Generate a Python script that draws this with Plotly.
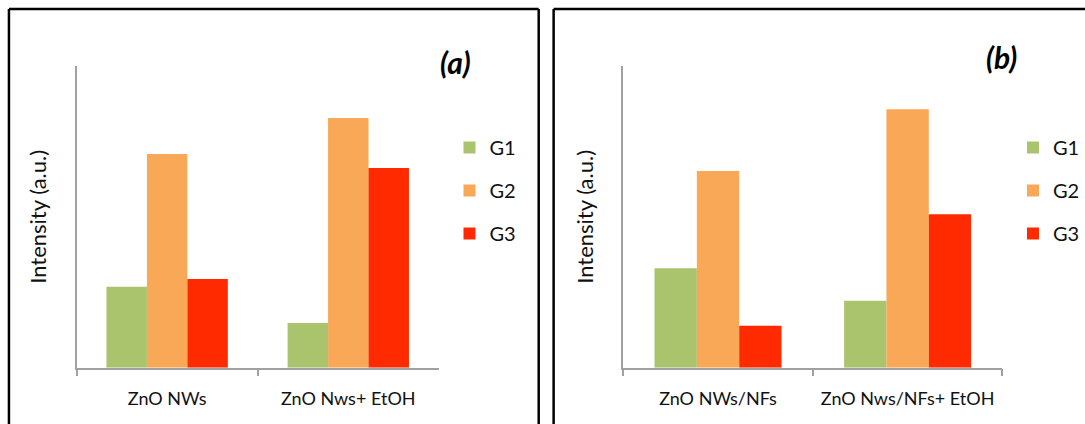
import plotly.graph_objects as go

# ---- data ----
categories_a = ["ZnO NWs", "ZnO Nws+ EtOH"]
categories_b = ["ZnO NWs/NFs", "ZnO Nws/NFs+ EtOH"]
series_names = ["G1", "G2", "G3"]
values_a = {
    "G1": [0.268, 0.148],
    "G2": [0.708, 0.828],
    "G3": [0.294, 0.662],
}
values_b = {
    "G1": [0.330, 0.222],
    "G2": [0.652, 0.857],
    "G3": [0.139, 0.509],
}
colors = {"G1": "#AAC36D", "G2": "#F9A857", "G3": "#FF2A00"}
y_title = "Intensity (a.u.)"
panel_labels = ["(a)", "(b)"]

W, H = 1085, 424
FONT = "Lato, 'Open Sans', sans-serif"

def px(x):
    return x / W

def py(y):
    return 1 - y / H

fig = go.Figure()
for name in series_names:
    fig.add_trace(go.Bar(
        x=categories_a, y=values_a[name], name=name,
        marker=dict(color=colors[name], line=dict(width=0)),
        xaxis="x", yaxis="y", legend="legend", legendgroup="a" + name,
    ))
for name in series_names:
    fig.add_trace(go.Bar(
        x=categories_b, y=values_b[name], name=name,
        marker=dict(color=colors[name], line=dict(width=0)),
        xaxis="x2", yaxis="y2", legend="legend2", legendgroup="b" + name,
    ))

axis_gray = "#A0A0A0"
xcommon = dict(
    type="category", range=[-0.5, 1.5], showline=True, linecolor=axis_gray,
    linewidth=1.5, ticks="outside", tickson="boundaries", ticklen=7,
    tickcolor=axis_gray, tickwidth=1.5, showgrid=False, zeroline=False,
    tickfont=dict(family=FONT, size=18, color="#111111"),
    ticklabelstandoff=14,
    fixedrange=True,
)
ycommon = dict(
    range=[0, 1], showline=True, linecolor=axis_gray, linewidth=1.5,
    showticklabels=False, ticks="", showgrid=False, zeroline=False,
    title=dict(text=y_title, font=dict(family=FONT, size=22, color="#111111"),
               standoff=22),
    domain=[py(367.7), py(66)],
    fixedrange=True,
)

legend_font = dict(family=FONT, size=20, color="#111111")
fig.update_layout(
    width=W, height=H,
    margin=dict(l=0, r=0, t=0, b=0),
    paper_bgcolor="white", plot_bgcolor="white",
    barmode="group", bargap=0.33, bargroupgap=0,
    xaxis=dict(domain=[px(77), px(441.3)], anchor="y", **xcommon),
    yaxis=dict(anchor="x", **ycommon),
    xaxis2=dict(domain=[px(626.7), px(1008)], anchor="y2", **xcommon),
    yaxis2=dict(anchor="x2", **ycommon),
    legend=dict(x=px(452), y=py(128), xanchor="left", yanchor="top",
                font=legend_font, tracegroupgap=14, bgcolor="rgba(0,0,0,0)"),
    legend2=dict(x=px(1019), y=py(128), xanchor="left", yanchor="top",
                 font=legend_font, tracegroupgap=14, bgcolor="rgba(0,0,0,0)"),
    showlegend=True,
)

# panel labels
fig.add_annotation(text="<b><i>" + panel_labels[0] + "</i></b>", x=px(458), y=py(62),
                   xref="paper", yref="paper", showarrow=False,
                   xanchor="center", yanchor="middle",
                   font=dict(family=FONT, size=30, color="black"))
fig.add_annotation(text="<b><i>" + panel_labels[1] + "</i></b>", x=px(1006.7), y=py(56.7),
                   xref="paper", yref="paper", showarrow=False,
                   xanchor="center", yanchor="middle",
                   font=dict(family=FONT, size=30, color="black"))

# panel frames
bw = 2.5
frame = dict(type="line", xref="paper", yref="paper", line=dict(color="black", width=bw))
fig.add_shape(x0=px(9), x1=px(9), y0=py(9), y1=py(440), **frame)
fig.add_shape(x0=px(9), x1=px(541.7), y0=py(9), y1=py(9), **frame)
fig.add_shape(x0=px(541.7), x1=px(541.7), y0=py(9), y1=py(440), **frame)
fig.add_shape(x0=px(556.7), x1=px(556.7), y0=py(9), y1=py(440), **frame)
fig.add_shape(x0=px(556.7), x1=px(1100), y0=py(9), y1=py(9), **frame)

fig.write_html(
    "out.html",
    config={"displayModeBar": False},
    post_script="document.body.style.margin='0';document.body.style.padding='0';"
                "document.body.style.overflow='hidden';",
)
